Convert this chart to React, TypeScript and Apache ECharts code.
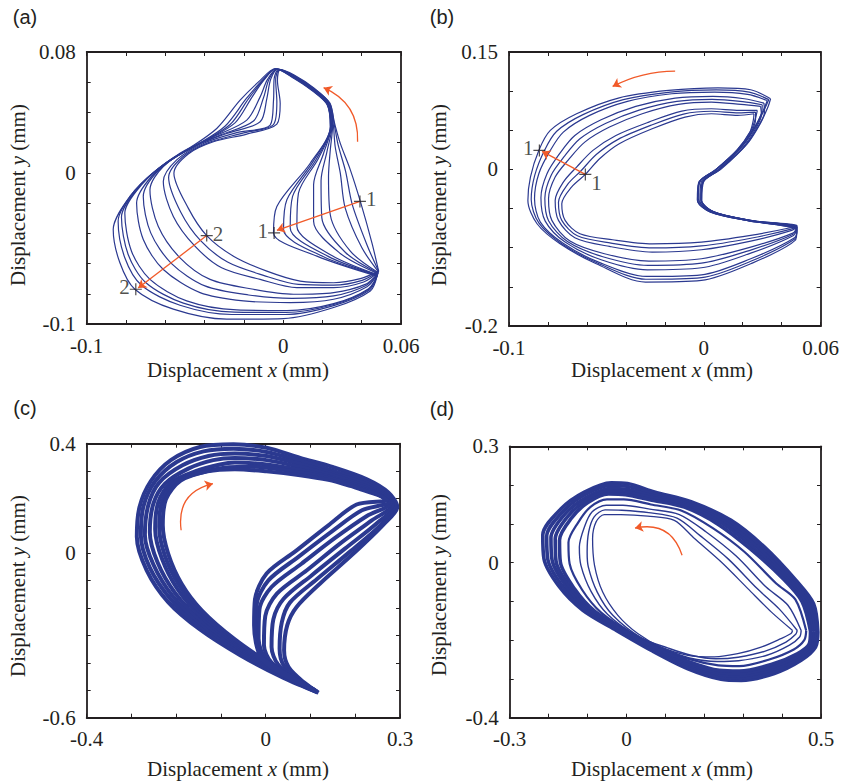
import React, { useEffect, useRef } from 'react';
import * as echarts from 'echarts';

const NAVY = '#2B3990';
const ORANGE = '#F15A29';
const INK = '#231F20';
const SERIF = '"Liberation Serif", "Times New Roman", serif';
const SANS = '"Liberation Sans", Arial, sans-serif';

// ---------- Panel (a) ----------
const xTicksA: [number, string][] = [[-0.1, '-0.1'], [0, '0'], [0.06, '0.06']];
const yTicksA: [number, string][] = [[-0.1, '-0.1'], [0, '0'], [0.08, '0.08']];
const aE = [[0.0486,-0.0650],[0.0452,-0.0463],[0.0393,-0.0189],[0.0342,0.0020],[0.0291,0.0195],[0.0262,0.0327],[0.0236,0.0462],[0.0158,0.0560],[0.0056,0.0647],[-0.0015,0.0683],[-0.0029,0.0612],[-0.0015,0.0459],[-0.0032,0.0323],[-0.0185,0.0257],[-0.0355,0.0206],[-0.0483,0.0125],[-0.0556,-0.0002],[-0.0483,-0.0233],[-0.0389,-0.0415],[-0.0253,-0.0551],[-0.0083,-0.0650],[0.0087,-0.0716],[0.0257,-0.0727],[0.0393,-0.0700]];
const aE1 = [[0.0487,-0.0653],[0.0428,-0.0480],[0.0352,-0.0210],[0.0318,0.0010],[0.0280,0.0185],[0.0259,0.0330],[0.0238,0.0462],[0.0158,0.0557],[0.0055,0.0644],[-0.0019,0.0684],[-0.0038,0.0616],[-0.0032,0.0470],[-0.0049,0.0320],[-0.0210,0.0262],[-0.0380,0.0200],[-0.0512,0.0105],[-0.0583,-0.0030],[-0.0521,-0.0260],[-0.0419,-0.0450],[-0.0283,-0.0590],[-0.0100,-0.0678],[0.0078,-0.0738],[0.0257,-0.0743],[0.0402,-0.0711]];
const a1 = [[0.0486,-0.0656],[0.0401,-0.0496],[0.0316,-0.0233],[0.0291,-0.0002],[0.0265,0.0173],[0.0255,0.0323],[0.0235,0.0459],[0.0155,0.0555],[0.0053,0.0643],[-0.0022,0.0685],[-0.0046,0.0621],[-0.0049,0.0481],[-0.0066,0.0316],[-0.0236,0.0266],[-0.0406,0.0195],[-0.0542,0.0086],[-0.0610,-0.0057],[-0.0559,-0.0288],[-0.0449,-0.0485],[-0.0313,-0.0628],[-0.0117,-0.0705],[0.0070,-0.0759],[0.0257,-0.0759],[0.0410,-0.0722]];
const a2 = [[0.0485,-0.0661],[0.0342,-0.0518],[0.0240,-0.0277],[0.0231,-0.0024],[0.0240,0.0151],[0.0252,0.0318],[0.0232,0.0457],[0.0152,0.0553],[0.0050,0.0641],[-0.0027,0.0687],[-0.0063,0.0621],[-0.0083,0.0492],[-0.0117,0.0338],[-0.0287,0.0261],[-0.0457,0.0173],[-0.0610,0.0042],[-0.0678,-0.0112],[-0.0636,-0.0353],[-0.0525,-0.0562],[-0.0372,-0.0705],[-0.0151,-0.0770],[0.0053,-0.0803],[0.0257,-0.0792],[0.0418,-0.0738]];
const a23 = [[0.0484,-0.0664],[0.0316,-0.0525],[0.0197,-0.0298],[0.0193,-0.0052],[0.0223,0.0140],[0.0249,0.0316],[0.0230,0.0456],[0.0150,0.0552],[0.0048,0.0640],[-0.0030,0.0687],[-0.0072,0.0619],[-0.0100,0.0497],[-0.0151,0.0343],[-0.0321,0.0250],[-0.0491,0.0151],[-0.0640,0.0009],[-0.0712,-0.0156],[-0.0674,-0.0397],[-0.0568,-0.0600],[-0.0398,-0.0748],[-0.0176,-0.0808],[0.0045,-0.0830],[0.0257,-0.0814],[0.0422,-0.0745]];
const a3 = [[0.0483,-0.0667],[0.0291,-0.0533],[0.0155,-0.0320],[0.0155,-0.0079],[0.0206,0.0130],[0.0246,0.0314],[0.0229,0.0455],[0.0151,0.0551],[0.0051,0.0639],[-0.0032,0.0687],[-0.0080,0.0617],[-0.0117,0.0503],[-0.0185,0.0349],[-0.0355,0.0239],[-0.0525,0.0130],[-0.0670,-0.0024],[-0.0746,-0.0200],[-0.0712,-0.0441],[-0.0610,-0.0639],[-0.0423,-0.0792],[-0.0202,-0.0847],[0.0036,-0.0858],[0.0257,-0.0836],[0.0427,-0.0753]];
const a4 = [[0.0481,-0.0674],[0.0248,-0.0547],[0.0070,-0.0353],[0.0078,-0.0134],[0.0180,0.0097],[0.0244,0.0309],[0.0228,0.0454],[0.0150,0.0549],[0.0050,0.0637],[-0.0036,0.0689],[-0.0097,0.0615],[-0.0160,0.0498],[-0.0245,0.0331],[-0.0406,0.0206],[-0.0576,0.0086],[-0.0721,-0.0079],[-0.0806,-0.0266],[-0.0772,-0.0518],[-0.0678,-0.0705],[-0.0491,-0.0847],[-0.0236,-0.0907],[0.0019,-0.0911],[0.0257,-0.0865],[0.0435,-0.0766]];
const a45 = [[0.0480,-0.0676],[0.0227,-0.0551],[0.0036,-0.0364],[0.0048,-0.0156],[0.0168,0.0089],[0.0242,0.0306],[0.0226,0.0453],[0.0149,0.0548],[0.0049,0.0635],[-0.0038,0.0689],[-0.0102,0.0613],[-0.0175,0.0493],[-0.0270,0.0320],[-0.0427,0.0192],[-0.0593,0.0070],[-0.0738,-0.0098],[-0.0823,-0.0293],[-0.0789,-0.0540],[-0.0700,-0.0725],[-0.0508,-0.0862],[-0.0249,-0.0922],[0.0015,-0.0924],[0.0257,-0.0871],[0.0437,-0.0770]];
const a5 = [[0.0479,-0.0678],[0.0206,-0.0555],[0.0002,-0.0375],[0.0019,-0.0178],[0.0155,0.0081],[0.0241,0.0307],[0.0225,0.0452],[0.0148,0.0547],[0.0048,0.0634],[-0.0039,0.0689],[-0.0107,0.0612],[-0.0189,0.0489],[-0.0296,0.0309],[-0.0449,0.0178],[-0.0610,0.0053],[-0.0755,-0.0116],[-0.0840,-0.0320],[-0.0806,-0.0562],[-0.0721,-0.0744],[-0.0525,-0.0876],[-0.0262,-0.0937],[0.0010,-0.0937],[0.0257,-0.0878],[0.0440,-0.0775]];
const aL = [[0.0478,-0.0683],[0.0172,-0.0551],[-0.0049,-0.0397],[-0.0032,-0.0222],[0.0138,0.0064],[0.0240,0.0305],[0.0224,0.0451],[0.0147,0.0545],[0.0047,0.0632],[-0.0041,0.0689],[-0.0117,0.0612],[-0.0219,0.0481],[-0.0338,0.0294],[-0.0491,0.0151],[-0.0644,0.0020],[-0.0780,-0.0156],[-0.0865,-0.0375],[-0.0831,-0.0595],[-0.0755,-0.0770],[-0.0559,-0.0902],[-0.0287,-0.0968],[0.0002,-0.0964],[0.0257,-0.0891],[0.0444,-0.0781]];
const loopsA = [aE, aE1, a1, a2, a23, a3, a4, a45, a5, aL];
const arrowsA = [
  { from: [0.0391, -0.0189], to: [-0.0032, -0.0380], curve: 0 },
  { from: [-0.0389, -0.0415], to: [-0.0738, -0.0762], curve: 0 },
  { from: [0.0379, 0.0206], to: [0.0206, 0.0564], curve: -0.34 },
];
const marksA = [
  { pos: [0.0391, -0.0189], label: '1', side: 'right' },
  { pos: [-0.0046, -0.0397], label: '1', side: 'left' },
  { pos: [-0.0389, -0.0415], label: '2', side: 'right' },
  { pos: [-0.0750, -0.0770], label: '2', side: 'left' },
];

// ---------- Panel (b) ----------
const xTicksB: [number, string][] = [[-0.1, '-0.1'], [0, '0'], [0.06, '0.06']];
const yTicksB: [number, string][] = [[-0.2, '-0.2'], [0, '0'], [0.15, '0.15']];
const bE = [[0.0258,0.0711],[0.0174,0.0690],[0.0039,0.0711],[-0.0096,0.0669],[-0.0265,0.0519],[-0.0434,0.0328],[-0.0535,0.0136],[-0.0608,-0.0064],[-0.0679,-0.0226],[-0.0729,-0.0439],[-0.0712,-0.0651],[-0.0636,-0.0822],[-0.0468,-0.0898],[-0.0265,-0.0950],[-0.0012,-0.0928],[0.0241,-0.0843],[0.0444,-0.0745],[0.0478,-0.0715],[0.0236,-0.0651],[0.0032,-0.0530],[-0.0028,-0.0372],[-0.0020,-0.0160],[0.0057,-0.0015],[0.0168,0.0240],[0.0236,0.0474],[0.0254,0.0624]];
const bE1 = [[0.0266,0.0732],[0.0178,0.0722],[0.0039,0.0743],[-0.0104,0.0707],[-0.0273,0.0562],[-0.0442,0.0381],[-0.0552,0.0190],[-0.0630,-0.0017],[-0.0700,-0.0194],[-0.0746,-0.0418],[-0.0729,-0.0651],[-0.0649,-0.0848],[-0.0476,-0.0941],[-0.0265,-0.1003],[-0.0012,-0.0977],[0.0241,-0.0879],[0.0448,-0.0762],[0.0478,-0.0722],[0.0245,-0.0653],[0.0045,-0.0534],[-0.0014,-0.0379],[-0.0006,-0.0164],[0.0072,-0.0011],[0.0180,0.0249],[0.0246,0.0488],[0.0266,0.0643]];
const b1 = [[0.0275,0.0754],[0.0182,0.0754],[0.0039,0.0775],[-0.0113,0.0745],[-0.0282,0.0605],[-0.0451,0.0434],[-0.0569,0.0243],[-0.0653,0.0030],[-0.0721,-0.0162],[-0.0763,-0.0396],[-0.0746,-0.0651],[-0.0662,-0.0873],[-0.0484,-0.0984],[-0.0265,-0.1056],[-0.0012,-0.1026],[0.0241,-0.0915],[0.0452,-0.0779],[0.0479,-0.0728],[0.0232,-0.0656],[0.0030,-0.0537],[-0.0032,-0.0383],[-0.0024,-0.0166],[0.0058,-0.0009],[0.0174,0.0255],[0.0243,0.0498],[0.0266,0.0660]];
const b2 = [[0.0292,0.0805],[0.0191,0.0830],[0.0039,0.0860],[-0.0130,0.0830],[-0.0316,0.0711],[-0.0484,0.0541],[-0.0611,0.0349],[-0.0695,0.0123],[-0.0763,-0.0098],[-0.0797,-0.0375],[-0.0780,-0.0651],[-0.0687,-0.0915],[-0.0510,-0.1077],[-0.0282,-0.1171],[-0.0012,-0.1141],[0.0241,-0.0992],[0.0457,-0.0813],[0.0479,-0.0737],[0.0250,-0.0656],[0.0049,-0.0541],[-0.0015,-0.0387],[-0.0007,-0.0166],[0.0078,-0.0004],[0.0197,0.0268],[0.0266,0.0519],[0.0296,0.0698]];
const b23 = [[0.0300,0.0826],[0.0200,0.0866],[0.0043,0.0896],[-0.0138,0.0870],[-0.0332,0.0758],[-0.0505,0.0587],[-0.0636,0.0391],[-0.0716,0.0166],[-0.0784,-0.0076],[-0.0816,-0.0369],[-0.0797,-0.0655],[-0.0700,-0.0921],[-0.0518,-0.1115],[-0.0286,-0.1226],[-0.0012,-0.1198],[0.0241,-0.1030],[0.0459,-0.0828],[0.0479,-0.0743],[0.0236,-0.0658],[0.0033,-0.0543],[-0.0033,-0.0390],[-0.0026,-0.0166],[0.0062,-0.0002],[0.0190,0.0276],[0.0262,0.0530],[0.0296,0.0715]];
const b3 = [[0.0309,0.0847],[0.0208,0.0903],[0.0047,0.0933],[-0.0147,0.0911],[-0.0349,0.0805],[-0.0527,0.0634],[-0.0662,0.0434],[-0.0738,0.0209],[-0.0805,-0.0055],[-0.0836,-0.0362],[-0.0814,-0.0660],[-0.0712,-0.0928],[-0.0527,-0.1154],[-0.0290,-0.1282],[-0.0012,-0.1256],[0.0241,-0.1069],[0.0461,-0.0843],[0.0479,-0.0749],[0.0253,-0.0656],[0.0051,-0.0541],[-0.0013,-0.0392],[-0.0005,-0.0166],[0.0083,0.0000],[0.0207,0.0285],[0.0277,0.0541],[0.0312,0.0732]];
const b4 = [[0.0326,0.0881],[0.0225,0.0958],[0.0056,0.0988],[-0.0164,0.0967],[-0.0392,0.0869],[-0.0586,0.0690],[-0.0721,0.0477],[-0.0788,0.0243],[-0.0847,-0.0055],[-0.0869,-0.0375],[-0.0839,-0.0673],[-0.0724,-0.0941],[-0.0540,-0.1184],[-0.0295,-0.1367],[-0.0012,-0.1346],[0.0241,-0.1141],[0.0466,-0.0873],[0.0479,-0.0762],[0.0238,-0.0660],[0.0035,-0.0545],[-0.0031,-0.0396],[-0.0024,-0.0166],[0.0067,0.0004],[0.0197,0.0307],[0.0266,0.0562],[0.0307,0.0762]];
const b4L = [[0.0334,0.0892],[0.0233,0.0988],[0.0064,0.1015],[-0.0172,0.0988],[-0.0413,0.0892],[-0.0620,0.0700],[-0.0755,0.0487],[-0.0818,0.0243],[-0.0868,-0.0076],[-0.0886,-0.0385],[-0.0847,-0.0683],[-0.0731,-0.0945],[-0.0546,-0.1195],[-0.0297,-0.1403],[-0.0012,-0.1382],[0.0241,-0.1173],[0.0467,-0.0890],[0.0478,-0.0770],[0.0248,-0.0662],[0.0046,-0.0547],[-0.0020,-0.0396],[-0.0013,-0.0164],[0.0078,0.0006],[0.0204,0.0317],[0.0272,0.0572],[0.0314,0.0779]];
const bL = [[0.0343,0.0903],[0.0241,0.1018],[0.0073,0.1043],[-0.0181,0.1009],[-0.0434,0.0915],[-0.0653,0.0711],[-0.0788,0.0498],[-0.0847,0.0243],[-0.0890,-0.0098],[-0.0903,-0.0396],[-0.0856,-0.0694],[-0.0738,-0.0950],[-0.0552,-0.1205],[-0.0299,-0.1439],[-0.0012,-0.1418],[0.0241,-0.1205],[0.0469,-0.0907],[0.0478,-0.0779],[0.0260,-0.0662],[0.0058,-0.0548],[-0.0010,-0.0398],[-0.0001,-0.0160],[0.0092,0.0010],[0.0224,0.0330],[0.0290,0.0585],[0.0330,0.0800]];
const loopsB = [bE, bE1, b1, b2, b23, b3, b4, b4L, bL];
const arrowsB = [
  { from: [-0.0608, -0.0064], to: [-0.0830, 0.0230], curve: 0 },
  { from: [-0.0147, 0.1256], to: [-0.0468, 0.1060], curve: -0.12 },
];
const marksB = [
  { pos: [-0.0844, 0.0243], label: '1', side: 'left' },
  { pos: [-0.0608, -0.0064], label: '1', side: 'right', offset: [0, 9] },
];

// ---------- Panel (c) ----------
const xTicksC: [number, string][] = [[-0.4, '-0.4'], [0, '0'], [0.3, '0.3']];
const yTicksC: [number, string][] = [[-0.6, '-0.6'], [0, '0'], [0.4, '0.4']];
const c0 = [[0.118,-0.509],[0.040,-0.455],[-0.057,-0.372],[-0.147,-0.278],[-0.218,-0.178],[-0.266,-0.062],[-0.288,0.060],[-0.282,0.169],[-0.257,0.263],[-0.212,0.340],[-0.147,0.388],[-0.072,0.398],[0.002,0.385],[0.077,0.348],[0.151,0.314],[0.226,0.270],[0.274,0.222],[0.294,0.169],[0.263,0.105],[0.196,-0.001],[0.121,-0.111],[0.069,-0.196],[0.048,-0.263],[0.041,-0.354],[0.051,-0.415],[0.086,-0.472]];
const c1 = [[0.116,-0.508],[0.037,-0.449],[-0.060,-0.363],[-0.147,-0.267],[-0.212,-0.168],[-0.259,-0.052],[-0.279,0.066],[-0.273,0.173],[-0.247,0.263],[-0.199,0.333],[-0.139,0.372],[-0.072,0.382],[0.002,0.370],[0.077,0.337],[0.151,0.301],[0.226,0.260],[0.270,0.218],[0.291,0.173],[0.256,0.102],[0.189,0.007],[0.114,-0.095],[0.054,-0.180],[0.036,-0.251],[0.031,-0.348],[0.041,-0.411],[0.080,-0.467]];
const c2 = [[0.115,-0.506],[0.034,-0.443],[-0.061,-0.354],[-0.145,-0.257],[-0.208,-0.156],[-0.251,-0.041],[-0.270,0.068],[-0.262,0.178],[-0.238,0.258],[-0.186,0.321],[-0.128,0.355],[-0.069,0.364],[0.002,0.355],[0.077,0.326],[0.151,0.291],[0.226,0.252],[0.267,0.214],[0.288,0.175],[0.247,0.108],[0.177,0.017],[0.103,-0.080],[0.040,-0.166],[0.017,-0.241],[0.013,-0.342],[0.028,-0.407],[0.073,-0.463]];
const c3 = [[0.114,-0.505],[0.032,-0.437],[-0.063,-0.343],[-0.145,-0.245],[-0.203,-0.144],[-0.242,-0.032],[-0.259,0.078],[-0.251,0.181],[-0.225,0.254],[-0.173,0.309],[-0.117,0.340],[-0.069,0.348],[0.002,0.340],[0.077,0.315],[0.148,0.285],[0.222,0.246],[0.263,0.212],[0.284,0.178],[0.237,0.120],[0.166,0.035],[0.092,-0.062],[0.025,-0.147],[-0.001,-0.229],[-0.004,-0.336],[0.013,-0.399],[0.066,-0.460]];
const c4 = [[0.112,-0.504],[0.029,-0.431],[-0.066,-0.332],[-0.144,-0.232],[-0.197,-0.131],[-0.232,-0.019],[-0.247,0.088],[-0.240,0.187],[-0.212,0.258],[-0.158,0.299],[-0.102,0.324],[-0.069,0.331],[0.002,0.324],[0.077,0.304],[0.145,0.278],[0.222,0.239],[0.259,0.209],[0.279,0.183],[0.226,0.136],[0.155,0.056],[0.080,-0.038],[0.013,-0.123],[-0.014,-0.204],[-0.016,-0.312],[0.002,-0.392],[0.058,-0.458]];
const c5 = [[0.111,-0.501],[0.027,-0.425],[-0.067,-0.324],[-0.143,-0.220],[-0.192,-0.120],[-0.225,-0.010],[-0.238,0.096],[-0.231,0.192],[-0.200,0.263],[-0.143,0.295],[-0.083,0.314],[-0.035,0.316],[0.002,0.312],[0.077,0.295],[0.144,0.273],[0.224,0.232],[0.256,0.211],[0.275,0.187],[0.215,0.157],[0.148,0.080],[0.073,-0.013],[0.006,-0.099],[-0.020,-0.186],[-0.022,-0.287],[-0.004,-0.388],[0.053,-0.454]];
const c6 = [[0.110,-0.500],[0.025,-0.419],[-0.069,-0.314],[-0.143,-0.208],[-0.188,-0.111],[-0.218,-0.001],[-0.230,0.102],[-0.223,0.197],[-0.190,0.265],[-0.130,0.299],[-0.069,0.307],[0.002,0.299],[0.077,0.285],[0.140,0.268],[0.189,0.246],[0.226,0.226],[0.252,0.212],[0.270,0.194],[0.203,0.178],[0.140,0.102],[0.066,0.007],[0.002,-0.074],[-0.024,-0.168],[-0.026,-0.263],[-0.009,-0.385],[0.048,-0.452]];
const loopsC = [c0, c1, c2, c3, c4, c5, c6];
const widthsC = [4, 4, 4, 4, 4, 4, 4];
const arrowsC = [{ from: [-0.189, 0.084], to: [-0.118, 0.254], curve: 0.45 }];

// ---------- Panel (d) ----------
const xTicksD: [number, string][] = [[-0.3, '-0.3'], [0, '0'], [0.5, '0.5']];
const yTicksD: [number, string][] = [[-0.4, '-0.4'], [0, '0'], [0.3, '0.3']];
const d0 = [[0.492,-0.179],[0.481,-0.106],[0.436,-0.046],[0.355,0.040],[0.269,0.109],[0.166,0.157],[0.072,0.182],[0.003,0.204],[-0.039,0.206],[-0.108,0.182],[-0.168,0.139],[-0.215,0.071],[-0.212,0.010],[-0.172,-0.063],[-0.112,-0.123],[-0.031,-0.172],[0.063,-0.226],[0.158,-0.274],[0.243,-0.301],[0.295,-0.304],[0.380,-0.286],[0.449,-0.252],[0.486,-0.218]];
const d01 = [[0.488,-0.178],[0.474,-0.105],[0.428,-0.045],[0.347,0.039],[0.261,0.107],[0.162,0.153],[0.070,0.177],[0.001,0.197],[-0.041,0.199],[-0.107,0.175],[-0.163,0.132],[-0.205,0.068],[-0.202,0.008],[-0.162,-0.064],[-0.104,-0.123],[-0.022,-0.174],[0.070,-0.225],[0.160,-0.270],[0.243,-0.295],[0.294,-0.298],[0.378,-0.281],[0.447,-0.249],[0.483,-0.217]];
const d1 = [[0.483,-0.178],[0.466,-0.103],[0.419,-0.043],[0.338,0.038],[0.252,0.105],[0.158,0.150],[0.068,0.172],[-0.001,0.189],[-0.043,0.191],[-0.105,0.167],[-0.158,0.125],[-0.194,0.064],[-0.191,0.006],[-0.152,-0.065],[-0.095,-0.123],[-0.014,-0.175],[0.076,-0.224],[0.162,-0.265],[0.242,-0.289],[0.292,-0.292],[0.376,-0.275],[0.445,-0.245],[0.479,-0.215]];
const d12 = [[0.478,-0.178],[0.459,-0.102],[0.411,-0.042],[0.329,0.036],[0.245,0.102],[0.154,0.147],[0.067,0.167],[-0.002,0.182],[-0.045,0.184],[-0.102,0.161],[-0.150,0.120],[-0.183,0.061],[-0.181,0.004],[-0.143,-0.066],[-0.088,-0.125],[-0.008,-0.176],[0.081,-0.223],[0.162,-0.261],[0.241,-0.284],[0.291,-0.286],[0.374,-0.269],[0.442,-0.240],[0.475,-0.212]];
const d2 = [[0.473,-0.177],[0.451,-0.100],[0.402,-0.041],[0.320,0.034],[0.237,0.098],[0.149,0.143],[0.065,0.161],[-0.003,0.175],[-0.046,0.177],[-0.099,0.155],[-0.142,0.114],[-0.172,0.058],[-0.170,0.002],[-0.134,-0.067],[-0.081,-0.126],[-0.001,-0.177],[0.085,-0.222],[0.162,-0.256],[0.239,-0.278],[0.290,-0.280],[0.372,-0.263],[0.439,-0.235],[0.470,-0.209]];
const d3 = [[0.462,-0.176],[0.434,-0.095],[0.385,-0.054],[0.303,0.028],[0.222,0.089],[0.142,0.134],[0.063,0.150],[-0.007,0.163],[-0.050,0.163],[-0.093,0.143],[-0.125,0.102],[-0.149,0.052],[-0.146,-0.003],[-0.114,-0.070],[-0.065,-0.129],[0.012,-0.181],[0.093,-0.222],[0.162,-0.249],[0.236,-0.265],[0.290,-0.267],[0.367,-0.250],[0.430,-0.224],[0.457,-0.200]];
const d4 = [[0.449,-0.175],[0.415,-0.110],[0.359,-0.063],[0.282,0.017],[0.205,0.079],[0.136,0.124],[0.060,0.138],[-0.009,0.148],[-0.052,0.148],[-0.088,0.131],[-0.108,0.092],[-0.121,0.040],[-0.117,-0.007],[-0.091,-0.074],[-0.048,-0.134],[0.025,-0.188],[0.106,-0.226],[0.162,-0.246],[0.233,-0.255],[0.288,-0.253],[0.361,-0.239],[0.419,-0.213],[0.445,-0.192]];
const d5 = [[0.439,-0.175],[0.393,-0.120],[0.336,-0.067],[0.262,0.009],[0.190,0.069],[0.130,0.115],[0.057,0.129],[-0.012,0.135],[-0.055,0.136],[-0.083,0.118],[-0.097,0.079],[-0.101,0.028],[-0.098,-0.011],[-0.075,-0.076],[-0.035,-0.136],[0.038,-0.194],[0.106,-0.220],[0.166,-0.239],[0.230,-0.248],[0.287,-0.244],[0.355,-0.229],[0.410,-0.205],[0.435,-0.185]];
const d6 = [[0.427,-0.175],[0.372,-0.127],[0.312,-0.067],[0.243,0.002],[0.175,0.062],[0.123,0.109],[0.055,0.120],[-0.014,0.124],[-0.057,0.124],[-0.078,0.105],[-0.087,0.062],[-0.082,-0.007],[-0.061,-0.076],[-0.022,-0.136],[0.029,-0.183],[0.089,-0.218],[0.158,-0.239],[0.226,-0.243],[0.286,-0.235],[0.346,-0.218],[0.397,-0.196],[0.423,-0.183]];
const loopsD = [d0, d01, d1, d12, d2, d3, d4, d5, d6];
const widthsD = [3.6, 3.6, 3.6, 3.6, 3.6, 2.2, 1.4, 1.4, 1.3];
const arrowsD = [{ from: [0.143, 0.019], to: [0.022, 0.089], curve: -0.45 }];

type Tick = [number, string];
interface Panel {
  letter: string;
  grid: { left: number; top: number; width: number; height: number };
  x: { min: number; max: number; interval: number; ticks: Tick[] };
  y: { min: number; max: number; interval: number; ticks: Tick[] };
  loops: number[][][];
  widths: number[];
  arrows: { from: number[]; to: number[]; curve: number }[];
  marks: { pos: number[]; label: string; side: string; offset?: number[] }[];
  letterPos: [number, number];
  xNamePos: [number, number];
  yNamePos: [number, number];
}

const panels: Panel[] = [
  {
    letter: '(a)', grid: { left: 86.7, top: 52, width: 314.3, height: 272 },
    x: { min: -0.1, max: 0.06, interval: 0.02, ticks: xTicksA },
    y: { min: -0.1, max: 0.08, interval: 0.02, ticks: yTicksA },
    loops: loopsA, widths: loopsA.map(() => 1.2), arrows: arrowsA, marks: marksA,
    letterPos: [25, 17], xNamePos: [238, 370], yNamePos: [18, 195],
  },
  {
    letter: '(b)', grid: { left: 509, top: 52, width: 316, height: 274 },
    x: { min: -0.1, max: 0.06, interval: 0.02, ticks: xTicksB },
    y: { min: -0.2, max: 0.15, interval: 0.05, ticks: yTicksB },
    loops: loopsB, widths: loopsB.map(() => 1.2), arrows: arrowsB, marks: marksB,
    letterPos: [442, 17], xNamePos: [662, 370], yNamePos: [439, 195],
  },
  {
    letter: '(c)', grid: { left: 86.7, top: 443.7, width: 313.3, height: 274 },
    x: { min: -0.4, max: 0.3, interval: 0.1, ticks: xTicksC },
    y: { min: -0.6, max: 0.4, interval: 0.1, ticks: yTicksC },
    loops: loopsC, widths: widthsC, arrows: arrowsC, marks: [],
    letterPos: [25, 408], xNamePos: [238, 769], yNamePos: [18, 586],
  },
  {
    letter: '(d)', grid: { left: 509.7, top: 446.3, width: 311.3, height: 271.4 },
    x: { min: -0.3, max: 0.5, interval: 0.1, ticks: xTicksD },
    y: { min: -0.4, max: 0.3, interval: 0.1, ticks: yTicksD },
    loops: loopsD, widths: widthsD, arrows: arrowsD, marks: [],
    letterPos: [442, 409], xNamePos: [662, 769], yNamePos: [439, 585],
  },
];

const PLUS = 'path://M0,5.4H12V6.6H0Z M5.4,0H6.6V12H5.4Z';

function fmt(ticks: Tick[]) {
  return (v: number) => {
    for (const [val, txt] of ticks) if (Math.abs(v - val) < 1e-7) return txt;
    return '';
  };
}

function buildOption() {
  const grid: any[] = [];
  const xAxis: any[] = [];
  const yAxis: any[] = [];
  const series: any[] = [];
  const graphic: any[] = [];
  const axisLine = { show: true, onZero: false, lineStyle: { color: INK, width: 1.8 } };
  const tick = { show: true, inside: true, length: 4, lineStyle: { color: INK, width: 1 } };
  const labelStyle = { fontFamily: SERIF, fontSize: 21, color: INK };

  panels.forEach((p, i) => {
    grid.push({ ...p.grid, containLabel: false });
    const xBase = { type: 'value', gridIndex: i, min: p.x.min, max: p.x.max, interval: p.x.interval, splitLine: { show: false }, axisLine, axisTick: tick };
    const yBase = { type: 'value', gridIndex: i, min: p.y.min, max: p.y.max, interval: p.y.interval, splitLine: { show: false }, axisLine, axisTick: tick };
    xAxis.push({ ...xBase, position: 'bottom', axisLabel: { ...labelStyle, margin: 11, formatter: fmt(p.x.ticks) } });
    xAxis.push({ ...xBase, position: 'top', axisLabel: { show: false } });
    yAxis.push({ ...yBase, position: 'left', axisLabel: { ...labelStyle, margin: 11, formatter: fmt(p.y.ticks) } });
    yAxis.push({ ...yBase, position: 'right', axisLabel: { show: false } });

    p.loops.forEach((loop, k) => {
      series.push({
        type: 'line', xAxisIndex: 2 * i, yAxisIndex: 2 * i,
        data: [...loop, loop[0]], symbol: 'none', smooth: 0.3, silent: true, z: 2,
        lineStyle: { color: NAVY, width: p.widths[k] },
      });
    });

    series.push({
      type: 'lines', coordinateSystem: 'cartesian2d', xAxisIndex: 2 * i, yAxisIndex: 2 * i,
      symbol: ['none', 'arrow'], symbolSize: 8, silent: true, z: 5,
      lineStyle: { color: ORANGE, width: 1.3, opacity: 1 },
      data: p.arrows.map((a) => ({ coords: [a.from, a.to], lineStyle: { curveness: a.curve } })),
    });

    if (p.marks.length) {
      series.push({
        type: 'scatter', xAxisIndex: 2 * i, yAxisIndex: 2 * i, symbol: PLUS, symbolSize: 12,
        silent: true, z: 6, itemStyle: { color: INK },
        label: { show: true, formatter: '{b}', fontFamily: SERIF, fontSize: 21, color: INK, distance: 0 },
        data: p.marks.map((m) => ({ name: m.label, value: m.pos, label: { position: m.side, offset: m.offset || [0, -2] } })),
      });
    }

    graphic.push({
      type: 'text', x: p.letterPos[0], y: p.letterPos[1],
      style: { text: p.letter, fontFamily: SANS, fontSize: 20, fill: INK, align: 'center', verticalAlign: 'middle' },
    });
    const rich = {
      n: { fontFamily: SERIF, fontSize: 21, fill: INK },
      i: { fontFamily: SERIF, fontSize: 21, fontStyle: 'italic', fill: INK },
    };
    graphic.push({
      type: 'text', x: p.xNamePos[0], y: p.xNamePos[1],
      style: { text: '{n|Displacement }{i|x}{n| (mm)}', rich, fill: INK, align: 'center', verticalAlign: 'middle' },
    });
    graphic.push({
      type: 'text', x: p.yNamePos[0], y: p.yNamePos[1], rotation: Math.PI / 2,
      style: { text: '{n|Displacement }{i|y}{n| (mm)}', rich, fill: INK, align: 'center', verticalAlign: 'middle' },
    });
  });

  return { animation: false, backgroundColor: '#ffffff', grid, xAxis, yAxis, series, graphic };
}

export default function App() {
  const ref = useRef<HTMLDivElement>(null);
  useEffect(() => {
    document.body.style.margin = '0';
    if (!ref.current) return;
    const chart = echarts.init(ref.current, undefined, { renderer: 'svg' });
    chart.setOption(buildOption() as any);
    return () => chart.dispose();
  }, []);
  return <div ref={ref} style={{ width: 842, height: 784 }} />;
}
